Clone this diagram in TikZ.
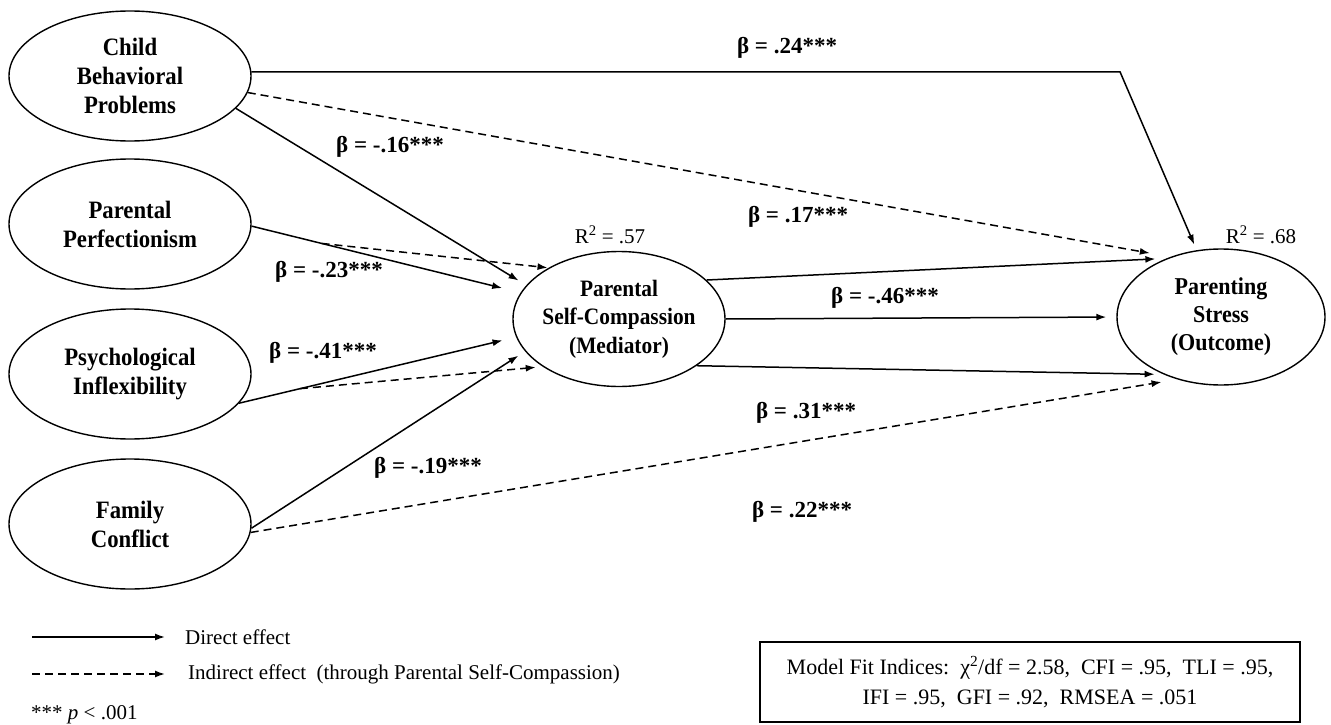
\documentclass[tikz,border=0pt]{standalone}
\usepackage{fontspec}
\setmainfont{Liberation Serif}
\newfontfamily\latfont{Liberation Serif}[FakeStretch=0.91]
\usetikzlibrary{shapes.geometric,arrows.meta,calc}
\begin{document}
\begin{tikzpicture}[x=1pt,y=-1pt,
  lat/.style={ellipse,draw,line width=1.4pt,minimum width=242pt,minimum height=130pt,
    inner sep=-12pt,align=center,font=\latfont\fontsize{25}{29}\selectfont\bfseries},
  direct/.style={-{Latex[length=10pt,width=7pt]},line width=1.5pt},
  indirect/.style={direct,dash pattern=on 8pt off 5pt},
  blab/.style={font=\fontsize{23}{26}\selectfont\bfseries,inner sep=0pt},
  rlab/.style={font=\fontsize{21}{25}\selectfont,inner sep=0pt},
  txt/.style={font=\fontsize{21}{25}\selectfont,inner sep=0pt}
]
\useasboundingbox (0,0) rectangle (1331,725);

% latent variables
\node[lat] (child) at (130,76) {Child\\Behavioral\\Problems};
\node[lat] (perf) at (130,224) {Parental\\Perfectionism};
\node[lat] (psych) at (130,374) {Psychological\\Inflexibility};
\node[lat] (fam) at (130,524) {Family\\Conflict};
\node[lat,minimum width=212pt,minimum height=135pt,
  font=\latfont\fontsize{23.5}{28.5}\selectfont\bfseries] (med) at (619,319) {Parental\\Self-Compassion\\(Mediator)};
\node[lat,minimum width=208pt,minimum height=136pt,
  font=\latfont\fontsize{24.2}{28}\selectfont\bfseries] (out) at (1221,317) {Parenting\\Stress\\(Outcome)};

% paths
\coordinate (bend) at (1120,71);
\draw[direct,shorten >=6pt] (child.2) -- (child.2 -| bend) -- (out.110);
\draw[indirect,shorten >=21pt] (child.-8) -- (out.130);
\draw[direct,shorten >=9pt] (child.-17) -- (med.160);
\draw[direct,shorten >=19pt] (perf.-1) -- (med.165);
\draw[indirect,shorten >=1pt] ($(perf.-1)!0.26!(med.165)$) -- (med.144);
\draw[direct,shorten >=14pt] (psych.-15) -- (med.190);
\draw[indirect,shorten >=7pt] ($(psych.-15)!0.22!(med.190)$) -- (med.212);
\draw[direct,shorten >=8pt] (fam.-2) -- (med.199);
\draw[indirect,shorten >=16pt] (fam.-4) -- (out.235);
\draw[direct,shorten >=11pt] (med.24) -- (out.133);
\draw[direct,shorten >=10pt] (med.east) -- (out.west);
\draw[direct,shorten >=9pt] (med.-31) -- (out.225);

% coefficients
\node[blab] (b24) at (787,48) {β = .24***};
\node[blab] (b16) at (390,147) {β = -.16***};
\node[blab] (b17) at (798,217) {β = .17***};
\node[blab] (b23) at (329,272) {β = -.23***};
\node[blab] (b46) at (885,298) {β = -.46***};
\node[blab] (b41) at (323,353) {β = -.41***};
\node[blab] (b31) at (806,413) {β = .31***};
\node[blab] (b19) at (428,468) {β = -.19***};
\node[blab] (b22) at (802,512) {β = .22***};
\node[rlab] (r57) at (610,235) {R\textsuperscript{2} = .57};
\node[rlab] (r68) at (1261,235) {R\textsuperscript{2} = .68};

% legend
\coordinate (ls1) at (32,637);
\coordinate (le1) at (165,637);
\draw[direct] (ls1) -- (le1);
\node[txt,anchor=west] (ldir) at (185,637) {Direct effect};
\coordinate (ls2) at (32,674);
\coordinate (le2) at (165,674);
\draw[indirect] (ls2) -- (le2);
\node[txt,anchor=west] (lind) at (188,674) {Indirect effect\ \ (through Parental Self-Compassion)};
\node[txt,anchor=west] (lp) at (31,715) {*** \textit{p} < .001};

% fit box
\node[draw,line width=1.4pt,minimum width=540pt,minimum height=80pt,align=center,
  font=\fontsize{22}{30}\selectfont,inner sep=0pt] (fit) at (1030,682)
  {Model Fit Indices:\ \ χ\textsuperscript{2}/df = 2.58,\ \ CFI = .95,\ \ TLI = .95,\\IFI = .95,\ \ GFI = .92,\ \ RMSEA = .051};
\end{tikzpicture}
\end{document}
